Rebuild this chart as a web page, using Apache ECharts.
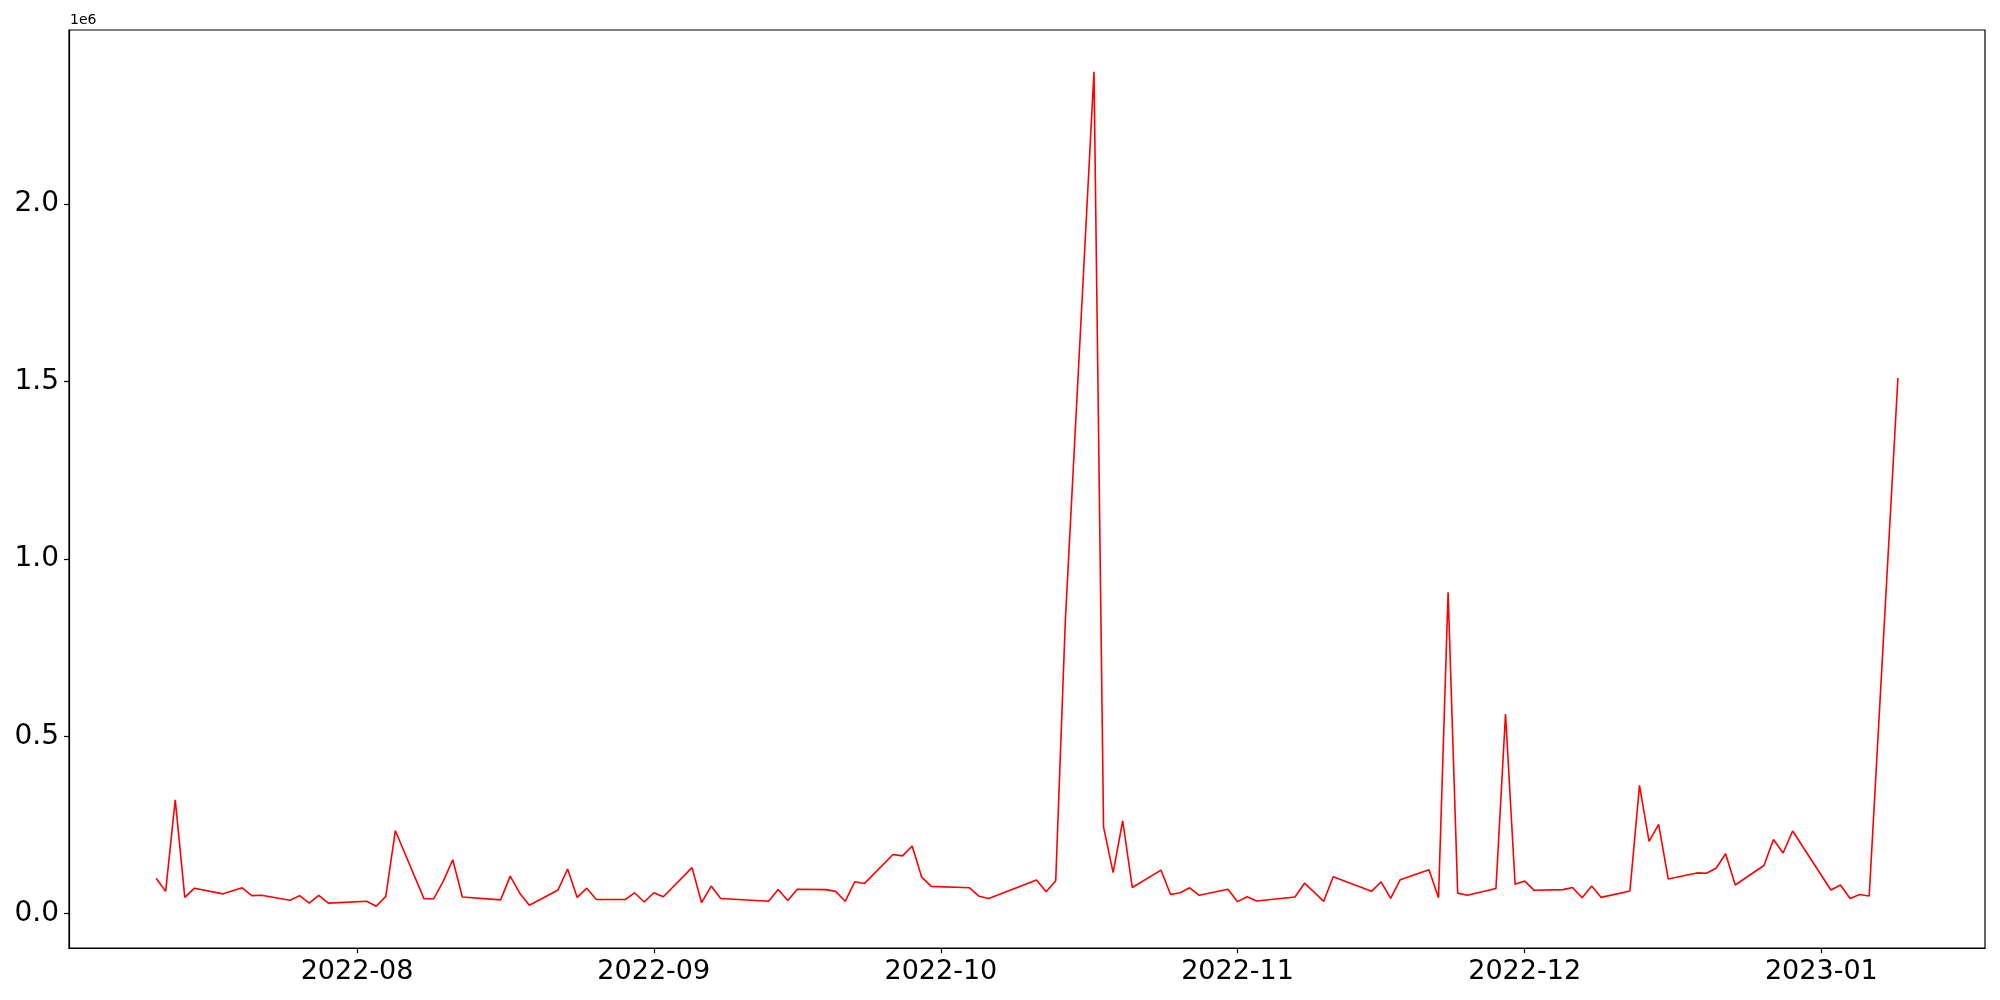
<!DOCTYPE html>
<html>
<head>
<meta charset="utf-8">
<title>line</title>
<script src="https://cdn.jsdelivr.net/npm/echarts@6/dist/echarts.min.js"></script>
<style>
  html, body { margin: 0; padding: 0; background: #fff; }
  #chart { width: 2000px; height: 1000px; }
</style>
</head>
<body>
<div id="chart"></div>
<script>
// dates shown on the chart (weekdays, some missing)
const dates = [
  '2022-07-11', '2022-07-12', '2022-07-13', '2022-07-14', '2022-07-15', '2022-07-18', '2022-07-20', '2022-07-21', '2022-07-22',
  '2022-07-25', '2022-07-26', '2022-07-27', '2022-07-28', '2022-07-29', '2022-08-02', '2022-08-03', '2022-08-04', '2022-08-05',
  '2022-08-08', '2022-08-09', '2022-08-10', '2022-08-11', '2022-08-12', '2022-08-16', '2022-08-17', '2022-08-18', '2022-08-19',
  '2022-08-22', '2022-08-23', '2022-08-24', '2022-08-25', '2022-08-26', '2022-08-29', '2022-08-30', '2022-08-31', '2022-09-01',
  '2022-09-02', '2022-09-05', '2022-09-06', '2022-09-07', '2022-09-08', '2022-09-13', '2022-09-14', '2022-09-15', '2022-09-16',
  '2022-09-19', '2022-09-20', '2022-09-21', '2022-09-22', '2022-09-23', '2022-09-26', '2022-09-27', '2022-09-28', '2022-09-29',
  '2022-09-30', '2022-10-04', '2022-10-05', '2022-10-06', '2022-10-11', '2022-10-12', '2022-10-13', '2022-10-14', '2022-10-17',
  '2022-10-18', '2022-10-19', '2022-10-20', '2022-10-21', '2022-10-24', '2022-10-25', '2022-10-26', '2022-10-27', '2022-10-28',
  '2022-10-31', '2022-11-01', '2022-11-02', '2022-11-03', '2022-11-07', '2022-11-08', '2022-11-09', '2022-11-10', '2022-11-11',
  '2022-11-15', '2022-11-16', '2022-11-17', '2022-11-18', '2022-11-21', '2022-11-22', '2022-11-23', '2022-11-24', '2022-11-25',
  '2022-11-28', '2022-11-29', '2022-11-30', '2022-12-01', '2022-12-02', '2022-12-05', '2022-12-06', '2022-12-07', '2022-12-08',
  '2022-12-09', '2022-12-12', '2022-12-13', '2022-12-14', '2022-12-15', '2022-12-16', '2022-12-19', '2022-12-20', '2022-12-21',
  '2022-12-22', '2022-12-23', '2022-12-26', '2022-12-27', '2022-12-28', '2022-12-29', '2023-01-02', '2023-01-03', '2023-01-04',
  '2023-01-05', '2023-01-06', '2023-01-09'
]
const values = [
  100000, 63000, 321000, 46000, 72000, 56000, 73000, 51000, 52000,
  38000, 51000, 30000, 52000, 30000, 35000, 21000, 49000, 234000,
  42000, 42000, 91000, 152000, 47000, 39000, 106000, 58000, 24000,
  67000, 126000, 46000, 72000, 40000, 40000, 59000, 33000, 59000,
  48000, 130000, 31000, 78000, 43000, 35000, 68000, 37000, 69000,
  68000, 63000, 35000, 90000, 85000, 167000, 163000, 191000, 103000,
  77000, 73000, 49000, 43000, 95000, 62000, 93000, 823000, 2373000,
  244000, 116000, 262000, 74000, 123000, 54000, 59000, 73000, 52000,
  69000, 34000, 48000, 36000, 47000, 86000, 61000, 35000, 104000,
  63000, 90000, 43000, 96000, 124000, 45000, 906000, 58000, 52000,
  71000, 563000, 83000, 92000, 66000, 68000, 74000, 45000, 78000,
  46000, 64000, 362000, 204000, 252000, 98000, 115000, 114000, 128000,
  169000, 81000, 136000, 209000, 171000, 233000, 67000, 81000, 43000,
  54000, 50000, 1510000
]
const yTicks = [0, 500000, 1000000, 1500000, 2000000]
const xTickMonths = ['2022-08-01', '2022-09-01', '2022-10-01', '2022-11-01', '2022-12-01', '2023-01-01']

const toTime = s => {
  const p = s.split('-')
  return new Date(+p[0], +p[1] - 1, +p[2]).getTime()
}

const times = dates.map(toTime)
const seriesData = times.map((t, i) => [t, values[i]])
const xTicks = xTickMonths.map(toTime)

// matplotlib style 5% margins
const tMin = Math.min(...times), tMax = Math.max(...times)
const vMin = Math.min(...values), vMax = Math.max(...values)
const tPad = (tMax - tMin) * 0.05
const vPad = (vMax - vMin) * 0.05

const font = 'DejaVu Sans'

const chart = echarts.init(document.getElementById('chart'), null, {renderer: 'canvas'})
chart.setOption({
  animation: false,
  backgroundColor: '#fff',
  grid: {
    left: 69,
    right: 15,
    top: 30,
    bottom: 52,
    show: true,
    borderColor: '#000',
    borderWidth: 1.2,
    backgroundColor: 'transparent'
  },
  // value axis holding timestamps, so month ticks can be placed exactly
  xAxis: {
    type: 'value',
    min: tMin - tPad,
    max: tMax + tPad,
    splitLine: {show: false},
    axisLine: {show: true, onZero: false, lineStyle: {color: '#000', width: 1.2}},
    axisTick: {
      show: true,
      inside: false,
      length: 5,
      lineStyle: {color: '#000', width: 1.2},
      customValues: xTicks
    },
    axisLabel: {
      show: true,
      color: '#000',
      fontFamily: font,
      fontSize: 27,
      margin: 10,
      customValues: xTicks,
      formatter: v => {
        const d = new Date(v)
        const m = d.getMonth() + 1
        return d.getFullYear() + '-' + (m < 10 ? '0' + m : m)
      }
    }
  },
  yAxis: {
    type: 'value',
    min: vMin - vPad,
    max: vMax + vPad,
    splitLine: {show: false},
    axisLine: {show: true, onZero: false, lineStyle: {color: '#000', width: 1.2}},
    axisTick: {
      show: true,
      inside: false,
      length: 5,
      lineStyle: {color: '#000', width: 1.2},
      customValues: yTicks
    },
    axisLabel: {
      show: true,
      color: '#000',
      fontFamily: font,
      fontSize: 28,
      margin: 10,
      customValues: yTicks,
      formatter: v => (v / 1e6).toFixed(1)
    }
  },
  graphic: [{
    type: 'text',
    left: 70,
    top: 13,
    style: {text: '1e6', fill: '#000', font: '14px "DejaVu Sans"'}
  }],
  series: [{
    type: 'line',
    data: seriesData,
    showSymbol: false,
    symbol: 'none',
    lineStyle: {color: '#ff0000', width: 1.6},
    itemStyle: {color: '#ff0000'}
  }]
})
</script>
</body>
</html>
